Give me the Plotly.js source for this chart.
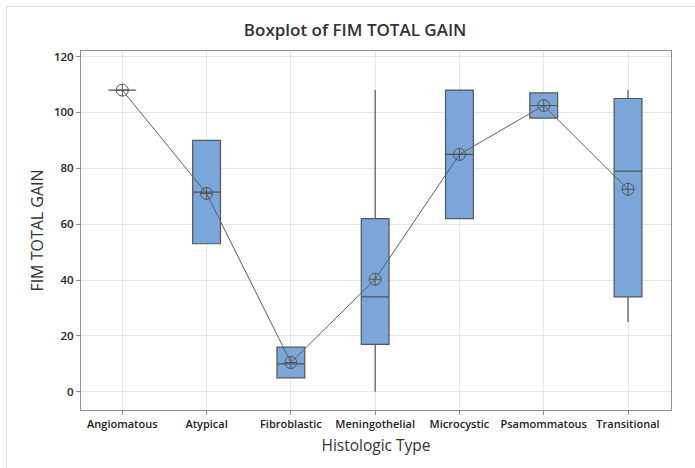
<!DOCTYPE html>
<html>
<head>
<meta charset="utf-8">
<script src="https://cdn.plot.ly/plotly-3.0.1.min.js"></script>
<style>
  html, body { margin: 0; padding: 0; background: #fff; }
  #wrap { position: relative; width: 695px; height: 468px; overflow: hidden; }
  #chart { width: 695px; height: 468px; }
  #frame { position: absolute; left: 6px; top: 6px; width: 700px; height: 480px;
           border-left: 1.5px solid #dcdcdc; border-top: 1.5px solid #dcdcdc; pointer-events: none; }
</style>
</head>
<body>
<div id="wrap">
  <div id="chart"></div>
  <div id="frame"></div>
</div>
<script>
// Categories
const categories = ["Angiomatous", "Atypical", "Fibroblastic", "Meningothelial", "Microcystic", "Psamommatous", "Transitional"];
// Box statistics
const lowerWhisker = [108, 53, 5, 0, 62, 98, 25];
const q1Values     = [108, 53, 5, 17, 62, 98, 34];
const medianValues = [108, 71.5, 10, 34, 85, 102.5, 79];
const q3Values     = [108, 90, 16, 62, 108, 107, 105];
const upperWhisker = [108, 90, 16, 108, 108, 107, 108];
// Means (connected with a line)
const meanValues   = [108, 71, 10.5, 40.3, 85, 102.5, 72.5];
const yTicks = [0, 20, 40, 60, 80, 100, 120];

const boxTrace = {
  type: "box",
  x: categories,
  q1: q1Values,
  median: medianValues,
  q3: q3Values,
  lowerfence: lowerWhisker,
  upperfence: upperWhisker,
  width: 0.33,
  whiskerwidth: 0,
  fillcolor: "#7ba6d9",
  line: { color: "#555555", width: 1.2 },
  boxpoints: false,
  hoverinfo: "skip",
  showlegend: false
};

const meanTrace = {
  type: "scatter",
  mode: "lines+markers",
  x: categories,
  y: meanValues,
  line: { color: "#606060", width: 1 },
  marker: { symbol: "circle-cross-open", size: 12, color: "#555555", line: { width: 1, color: "#555555" } },
  hoverinfo: "skip",
  showlegend: false
};

const layout = {
  width: 695,
  height: 468,
  margin: { l: 81, r: 24, t: 51, b: 58 },
  paper_bgcolor: "#ffffff",
  plot_bgcolor: "#ffffff",
  font: { family: "Open Sans, Noto Sans, sans-serif", color: "#222222" },
  title: {
    text: "Boxplot of FIM TOTAL GAIN",
    x: 0.511, xref: "container", xanchor: "center",
    y: 0.935, yref: "container", yanchor: "middle",
    font: { size: 17, color: "#333333", weight: 600 }
  },
  xaxis: {
    type: "category",
    range: [-0.49, 6.51],
    title: { text: "Histologic Type", font: { size: 15.5, color: "#333333", weight: 500 }, standoff: 9 },
    tickfont: { size: 11, color: "#222222", weight: 600 },
    showgrid: true, gridcolor: "#e6e6e6", gridwidth: 1,
    showline: true, linecolor: "#909090", linewidth: 1, mirror: true,
    ticks: "outside", ticklen: 4, tickcolor: "#909090",
    zeroline: false,
    fixedrange: true
  },
  yaxis: {
    range: [-6.5, 122],
    tickvals: yTicks,
    ticktext: yTicks.map(String),
    title: { text: "FIM TOTAL GAIN", font: { size: 16, color: "#333333", weight: 500 }, standoff: 6 },
    tickfont: { size: 11.5, color: "#222222", weight: 600 },
    showgrid: true, gridcolor: "#e6e6e6", gridwidth: 1,
    showline: true, linecolor: "#909090", linewidth: 1, mirror: true,
    ticks: "outside", ticklen: 4, tickcolor: "#909090",
    zeroline: false,
    fixedrange: true
  }
};

Plotly.newPlot("chart", [boxTrace, meanTrace], layout, { displayModeBar: false, staticPlot: true });
</script>
</body>
</html>
